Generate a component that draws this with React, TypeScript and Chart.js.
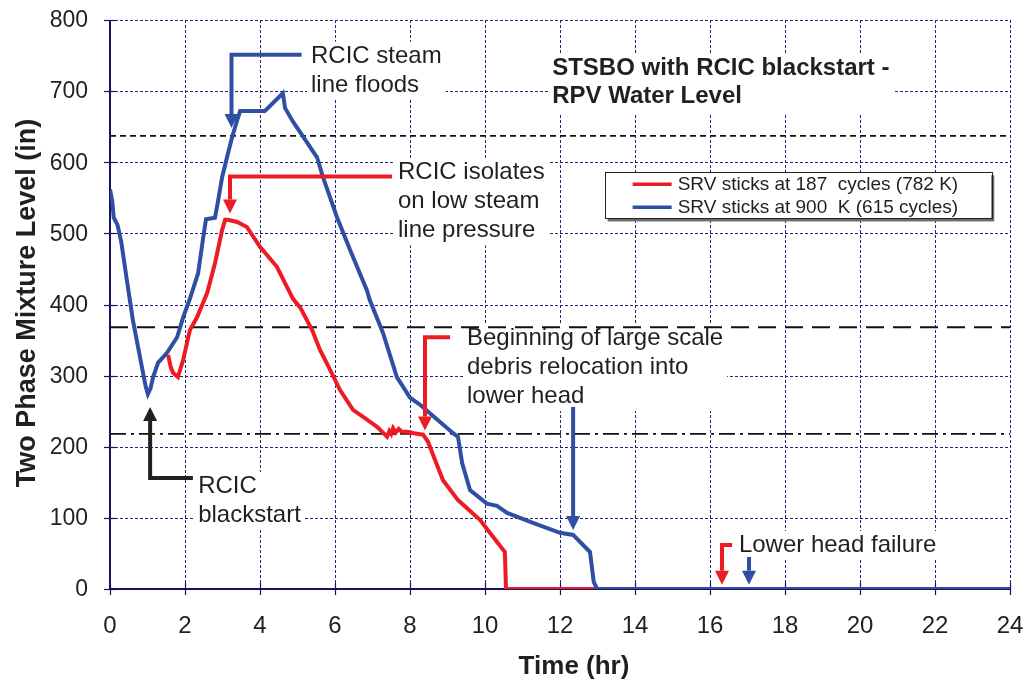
import React, { useEffect, useRef } from 'react';
import { Chart, registerables } from 'chart.js';

Chart.register(...registerables);

// ---------- data ----------
const X_TICKS = [0, 2, 4, 6, 8, 10, 12, 14, 16, 18, 20, 22, 24];
const Y_TICKS = [0, 100, 200, 300, 400, 500, 600, 700, 800];

const SERIES_LABELS = ['SRV sticks at 187  cycles (782 K)', 'SRV sticks at 900  K (615 cycles)'];

const RED_TIME = [1.55, 1.62, 1.68, 1.81, 1.95, 2.13, 2.32, 2.59, 2.8, 2.99, 3.07, 3.15, 3.39, 3.65, 4.0, 4.45, 4.88, 5.07, 5.39, 5.6, 5.87, 6.13, 6.48, 6.75, 7.12, 7.39, 7.45, 7.5, 7.55, 7.62, 7.7, 7.78, 7.92, 8.1, 8.35, 8.48, 8.67, 8.88, 9.28, 9.87, 10.13, 10.53, 10.56, 24];
const RED_LEVEL = [329, 312, 304, 298, 322, 364, 382, 416, 458, 505, 519, 519, 516, 509, 481, 453, 408, 396, 364, 336, 308, 280, 252, 242, 228, 214, 222, 218, 226, 220, 225, 221, 221, 219, 217, 207, 181, 153, 125, 97, 79, 52, 0, 0];

const BLUE_TIME = [0, 0.06, 0.1, 0.2, 0.3, 0.45, 0.61, 0.8, 0.95, 1.01, 1.08, 1.15, 1.28, 1.52, 1.79, 1.95, 2.13, 2.35, 2.48, 2.56, 2.8, 2.88, 2.99, 3.12, 3.25, 3.39, 3.47, 4.13, 4.61, 4.67, 4.88, 5.15, 5.52, 5.68, 6.05, 6.4, 6.85, 6.93, 7.28, 7.65, 8.0, 8.27, 8.53, 9.15, 9.28, 9.39, 9.6, 10.05, 10.32, 10.59, 11.28, 12.0, 12.35, 12.8, 12.9, 12.99, 24];
const BLUE_LEVEL = [562, 545, 522, 512, 488, 434, 378, 326, 285, 274, 282, 298, 318, 332, 354, 382, 408, 444, 492, 520, 522, 545, 579, 607, 634, 659, 672, 672, 697, 676, 657, 636, 607, 579, 523, 477, 420, 406, 360, 298, 269, 259, 247, 219, 214, 177, 139, 120, 117, 107, 93, 79, 76, 52, 10, 0, 0];

const REF_LEVELS = [637, 368, 218];
const REF_SPAN = [0, 24];

const RED = '#ed1c24';
const BLUE = '#2e4fa2';
const INK = '#231f20';
const NAVY = '#22227e';
const AXIS = '#141460';

const FONT = "'Liberation Sans', Arial, sans-serif";

type Callout = { color: string; path: number[][]; text: string[]; at: number[] | null };

const CALLOUTS: Callout[] = [
  { color: BLUE, path: [[5.11, 751], [3.24, 751], [3.24, 648]], text: ['RCIC steam', 'line floods'], at: [5.36, 740] },
  { color: RED, path: [[7.52, 580], [3.2, 580], [3.2, 528]], text: ['RCIC isolates', 'on low steam', 'line pressure'], at: [7.68, 576] },
  { color: RED, path: [[9.07, 354], [8.4, 354], [8.4, 223]], text: ['Beginning of large scale', 'debris relocation into', 'lower head'], at: [9.52, 343] },
  { color: BLUE, path: [[12.35, 256], [12.35, 83]], text: [], at: null },
  { color: INK, path: [[2.21, 156], [1.07, 156], [1.07, 256]], text: ['RCIC', 'blackstart'], at: [2.35, 135] },
  { color: RED, path: [[16.59, 62], [16.32, 62], [16.32, 6]], text: ['Lower head failure'], at: [16.77, 52] },
  { color: BLUE, path: [[17.04, 45], [17.04, 6]], text: [], at: null },
];

const TITLE_LINES = ['STSBO with RCIC blackstart -', 'RPV Water Level'];
const TITLE_AT = [11.79, 722];
const LEGEND_BOX = [13.19, 586, 23.5, 521]; // left, top, right, bottom (data units)

const ANN_FONT = `24px ${FONT}`;
const LINE_H = 29;

function drawCalloutText(ctx: CanvasRenderingContext2D, chart: any, c: Callout, fill: boolean) {
  if (!c.at || !c.text.length) return;
  const { x, y } = chart.scales;
  const left = x.getPixelForValue(c.at[0]);
  const base = y.getPixelForValue(c.at[1]);
  ctx.font = ANN_FONT;
  if (fill) {
    let w = 0;
    c.text.forEach((t) => (w = Math.max(w, ctx.measureText(t).width)));
    ctx.fillStyle = '#fff';
    ctx.fillRect(left - 4, base - 21, w + 8, (c.text.length - 1) * LINE_H + 29);
  } else {
    ctx.fillStyle = INK;
    ctx.textAlign = 'left';
    ctx.textBaseline = 'alphabetic';
    c.text.forEach((t, i) => ctx.fillText(t, left, base + i * LINE_H));
  }
}

const customPlugin = {
  id: 'custom',
  beforeDatasetsDraw(chart: any) {
    const { ctx, chartArea: ca, scales } = chart;
    const { x, y } = scales;
    ctx.save();
    // grid
    ctx.strokeStyle = NAVY;
    ctx.lineWidth = 1;
    ctx.setLineDash([3, 2]);
    X_TICKS.forEach((t) => {
      if (t === 0) return;
      const px = Math.round(x.getPixelForValue(t)) + 0.5;
      ctx.beginPath();
      ctx.moveTo(px, ca.top);
      ctx.lineTo(px, ca.bottom);
      ctx.stroke();
    });
    Y_TICKS.forEach((v) => {
      if (v === 0) return;
      const py = Math.round(y.getPixelForValue(v)) + 0.5;
      ctx.beginPath();
      ctx.moveTo(ca.left, py);
      ctx.lineTo(ca.right, py);
      ctx.stroke();
    });
    ctx.setLineDash([]);
    // white boxes behind text
    CALLOUTS.forEach((c) => drawCalloutText(ctx, chart, c, true));
    {
      const l = x.getPixelForValue(TITLE_AT[0]);
      const b = y.getPixelForValue(TITLE_AT[1]);
      ctx.font = `bold 24px ${FONT}`;
      let w = 0;
      TITLE_LINES.forEach((t) => (w = Math.max(w, ctx.measureText(t).width)));
      ctx.fillStyle = '#fff';
      ctx.fillRect(l - 4, b - 22, w + 8, 60);
    }
    // axes
    ctx.strokeStyle = AXIS;
    ctx.lineWidth = 2;
    ctx.beginPath();
    ctx.moveTo(ca.left, ca.top);
    ctx.lineTo(ca.left, ca.bottom);
    ctx.lineTo(ca.right, ca.bottom);
    ctx.stroke();
    ctx.lineWidth = 1.2;
    Y_TICKS.forEach((v) => {
      const py = Math.round(y.getPixelForValue(v)) + 0.5;
      ctx.beginPath();
      ctx.moveTo(ca.left - 6, py);
      ctx.lineTo(ca.left + 6, py);
      ctx.stroke();
    });
    X_TICKS.forEach((t) => {
      const px = Math.round(x.getPixelForValue(t)) + 0.5;
      ctx.beginPath();
      ctx.moveTo(px, ca.bottom - 6);
      ctx.lineTo(px, ca.bottom + 6);
      ctx.stroke();
    });
    // tick labels
    ctx.fillStyle = INK;
    ctx.font = `23px ${FONT}`;
    ctx.textAlign = 'right';
    ctx.textBaseline = 'middle';
    Y_TICKS.forEach((v) => ctx.fillText(String(v), ca.left - 22, y.getPixelForValue(v) + 1));
    ctx.font = `24px ${FONT}`;
    ctx.textAlign = 'center';
    X_TICKS.forEach((t) => ctx.fillText(String(t), x.getPixelForValue(t), ca.bottom + 37));
    ctx.restore();
  },
  afterDatasetsDraw(chart: any) {
    const { ctx, chartArea: ca, scales } = chart;
    const { x, y } = scales;
    ctx.save();
    // callout arrows
    CALLOUTS.forEach((c) => {
      const pts = c.path.map((p) => [x.getPixelForValue(p[0]), y.getPixelForValue(p[1])]);
      const n = pts.length;
      const [tx, ty] = pts[n - 1];
      const [fx, fy] = pts[n - 2];
      const dx = tx - fx;
      const dy = ty - fy;
      const len = Math.hypot(dx, dy);
      const ux = dx / len;
      const uy = dy / len;
      const head = 14;
      const half = 7;
      ctx.strokeStyle = c.color;
      ctx.fillStyle = c.color;
      ctx.lineWidth = 4;
      ctx.lineJoin = 'miter';
      ctx.beginPath();
      ctx.moveTo(pts[0][0], pts[0][1]);
      for (let i = 1; i < n - 1; i++) ctx.lineTo(pts[i][0], pts[i][1]);
      ctx.lineTo(tx - ux * head, ty - uy * head);
      ctx.stroke();
      ctx.beginPath();
      ctx.moveTo(tx, ty);
      ctx.lineTo(tx - ux * head - uy * half, ty - uy * head + ux * half);
      ctx.lineTo(tx - ux * head + uy * half, ty - uy * head - ux * half);
      ctx.closePath();
      ctx.fill();
      drawCalloutText(ctx, chart, c, false);
    });
    // title
    {
      const l = x.getPixelForValue(TITLE_AT[0]);
      const b = y.getPixelForValue(TITLE_AT[1]);
      ctx.font = `bold 24px ${FONT}`;
      ctx.fillStyle = INK;
      ctx.textAlign = 'left';
      ctx.textBaseline = 'alphabetic';
      TITLE_LINES.forEach((t, i) => ctx.fillText(t, l, b + i * 28));
    }
    // legend
    {
      const l = x.getPixelForValue(LEGEND_BOX[0]);
      const t = y.getPixelForValue(LEGEND_BOX[1]);
      const r = x.getPixelForValue(LEGEND_BOX[2]);
      const b = y.getPixelForValue(LEGEND_BOX[3]);
      ctx.fillStyle = '#6b6b6b';
      ctx.fillRect(l + 3, t + 3, r - l, b - t);
      ctx.fillStyle = '#fff';
      ctx.fillRect(l, t, r - l, b - t);
      ctx.strokeStyle = '#222';
      ctx.lineWidth = 1;
      ctx.strokeRect(Math.round(l) + 0.5, Math.round(t) + 0.5, Math.round(r - l), Math.round(b - t));
      const ds = chart.data.datasets;
      ctx.font = `19px ${FONT}`;
      ctx.textBaseline = 'middle';
      ctx.textAlign = 'left';
      [0, 1].forEach((i) => {
        const cy = t + 12 + i * 23;
        ctx.strokeStyle = ds[i].borderColor;
        ctx.lineWidth = 3.5;
        ctx.beginPath();
        ctx.moveTo(l + 28, cy);
        ctx.lineTo(l + 67, cy);
        ctx.stroke();
        ctx.fillStyle = INK;
        ctx.fillText(ds[i].label, l + 73, cy + 1);
      });
    }
    // axis titles
    ctx.fillStyle = INK;
    ctx.font = `bold 27px ${FONT}`;
    ctx.textAlign = 'center';
    ctx.textBaseline = 'middle';
    ctx.save();
    ctx.translate(28, 303);
    ctx.rotate(-Math.PI / 2);
    ctx.fillText('Two Phase Mixture Level (in)', 0, 0);
    ctx.restore();
    ctx.font = `bold 26px ${FONT}`;
    ctx.fillText('Time (hr)', 574, 667);
    ctx.restore();
  },
};

const toXY = (xs: number[], ys: number[]) => xs.map((v, i) => ({ x: v, y: ys[i] }));

export default function App() {
  const ref = useRef<HTMLCanvasElement | null>(null);
  useEffect(() => {
    const canvas = ref.current;
    if (!canvas) return;
    const refStyles = [[6, 4], [18, 9], [16, 5, 3, 5]];
    const chart = new Chart(canvas, {
      type: 'line',
      data: {
        datasets: [
          { label: SERIES_LABELS[0], data: toXY(RED_TIME, RED_LEVEL), borderColor: RED, borderWidth: 4, pointRadius: 0, order: 1 } as any,
          { label: SERIES_LABELS[1], data: toXY(BLUE_TIME, BLUE_LEVEL), borderColor: BLUE, borderWidth: 4, pointRadius: 0, order: 0 } as any,
          ...REF_LEVELS.map((lv, i) => ({
            label: 'ref' + i,
            data: REF_SPAN.map((t) => ({ x: t, y: lv })),
            borderColor: '#111',
            borderWidth: 1.8,
            borderDash: refStyles[i],
            pointRadius: 0,
            order: 5,
          })),
        ],
      },
      options: {
        animation: false,
        responsive: false,
        devicePixelRatio: 1,
        layout: { padding: { top: 20, right: 19, left: 0, bottom: 0 } },
        plugins: { legend: { display: false }, tooltip: { enabled: false }, title: { display: false } },
        scales: {
          x: {
            type: 'linear',
            min: 0,
            max: 24,
            afterFit: (s: any) => {
              s.height = 96;
              s.paddingLeft = 0;
              s.paddingRight = 0;
              s.paddingTop = 0;
              s.paddingBottom = 0;
            },
            grid: { display: false, drawTicks: false },
            border: { display: false },
            ticks: { display: false, stepSize: 2 },
          },
          y: {
            type: 'linear',
            min: 0,
            max: 800,
            afterFit: (s: any) => {
              s.width = 110;
              s.paddingLeft = 0;
              s.paddingRight = 0;
              s.paddingTop = 0;
              s.paddingBottom = 0;
            },
            grid: { display: false, drawTicks: false },
            border: { display: false },
            ticks: { display: false, stepSize: 100 },
          },
        },
      },
      plugins: [customPlugin],
    });
    return () => chart.destroy();
  }, []);
  return (
    <div style={{ position: 'absolute', left: 0, top: 0, width: 1029, height: 685, background: '#fff' }}>
      <canvas ref={ref} width={1029} height={685} />
    </div>
  );
}
